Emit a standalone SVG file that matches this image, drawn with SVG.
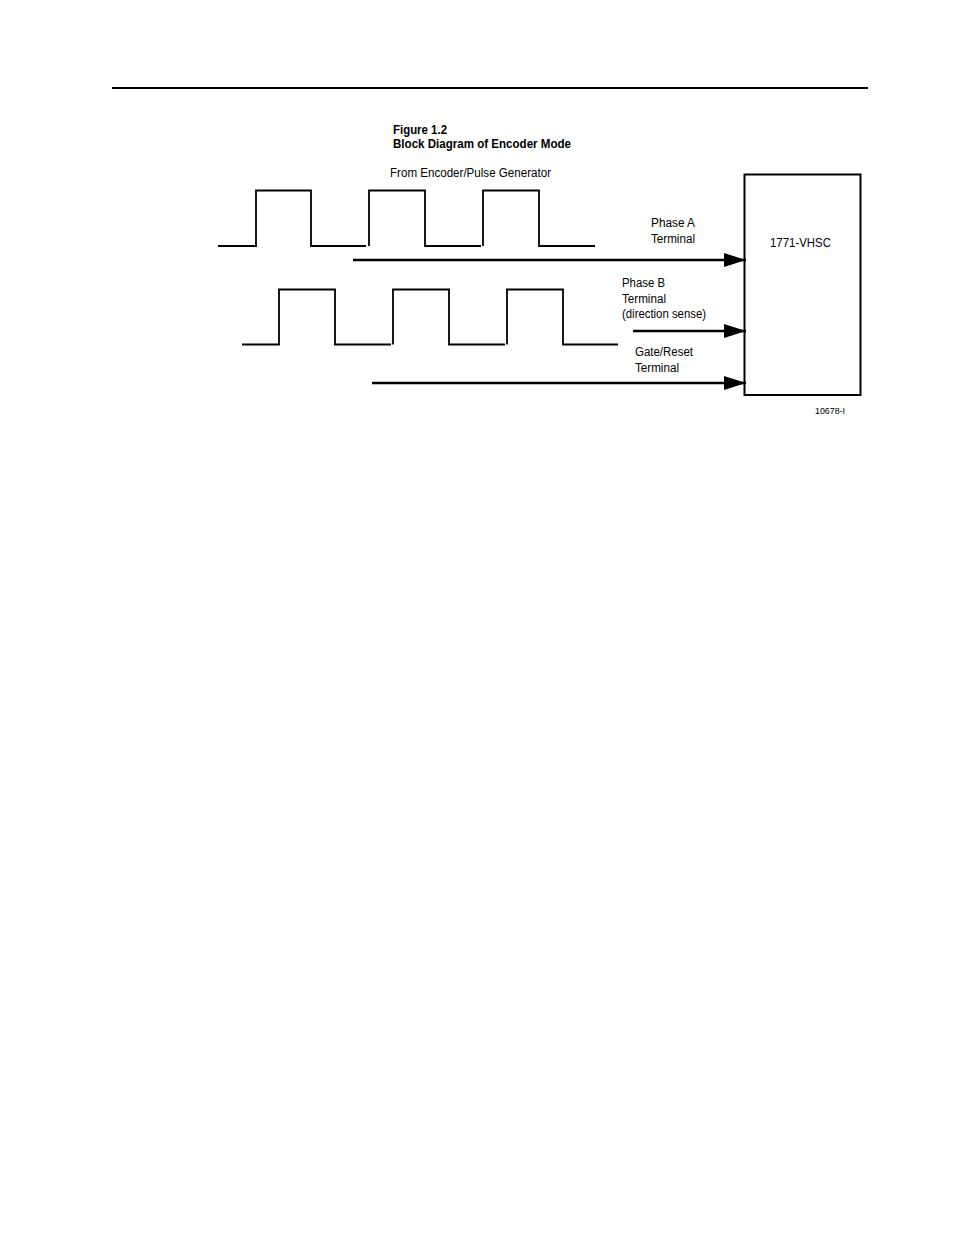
<svg xmlns="http://www.w3.org/2000/svg" width="954" height="1235" viewBox="0 0 954 1235">
<style>
text{font-family:"Liberation Sans",Arial,sans-serif;fill:#000}
.t{font-size:12.5px}
.b{font-size:12.5px;font-weight:bold}
.s{font-size:9.5px}
.w{fill:none;stroke:#000;stroke-width:1.8}
.c{fill:none;stroke:#000;stroke-width:2.4}
</style>
<defs>
<marker id="ah" markerUnits="userSpaceOnUse" markerWidth="22" markerHeight="14" refX="22" refY="7" orient="auto">
<path d="M0,0 L22,7 L0,14 Z" fill="#000"/>
</marker>
</defs>
<rect width="954" height="1235" fill="#fff"/>
<line x1="112" y1="88" x2="868" y2="88" stroke="#000" stroke-width="2"/>
<g id="title">
<text class="b" x="393" y="134" textLength="54" lengthAdjust="spacingAndGlyphs">Figure 1.2</text>
<text class="b" x="393" y="148" textLength="178" lengthAdjust="spacingAndGlyphs">Block Diagram of Encoder Mode</text>
<text class="t" x="390" y="177" textLength="161" lengthAdjust="spacingAndGlyphs">From Encoder/Pulse Generator</text>
</g>
<g id="waveform-a">
<polyline class="w" points="218,246 256,246 256,190.5 311,190.5 311,246 366,246"/>
<polyline class="w" points="369,246 369,190.5 425,190.5 425,246 481,246"/>
<polyline class="w" points="483,246 483,190.5 539,190.5 539,246 595,246"/>
</g>
<g id="waveform-b">
<polyline class="w" points="242,344.5 279,344.5 279,289.5 335,289.5 335,344.5 391,344.5"/>
<polyline class="w" points="393,344.5 393,289.5 449,289.5 449,344.5 505,344.5"/>
<polyline class="w" points="507,344.5 507,289.5 563,289.5 563,344.5 618,344.5"/>
</g>
<g id="vhsc">
<rect x="744.5" y="174.5" width="116" height="220.5" fill="none" stroke="#000" stroke-width="2"/>
<text class="t" x="770" y="247" textLength="61" lengthAdjust="spacingAndGlyphs">1771-VHSC</text>
</g>
<g id="connectors">
<line class="c" x1="353" y1="260" x2="746" y2="260" marker-end="url(#ah)"/>
<line class="c" x1="633" y1="331" x2="746" y2="331" marker-end="url(#ah)"/>
<line class="c" x1="372" y1="383" x2="746" y2="383" marker-end="url(#ah)"/>
</g>
<g id="labels">
<text class="t" x="651" y="227" textLength="44" lengthAdjust="spacingAndGlyphs">Phase A</text>
<text class="t" x="651" y="242.5" textLength="44" lengthAdjust="spacingAndGlyphs">Terminal</text>
<text class="t" x="622" y="287" textLength="43" lengthAdjust="spacingAndGlyphs">Phase B</text>
<text class="t" x="622" y="302.5" textLength="44" lengthAdjust="spacingAndGlyphs">Terminal</text>
<text class="t" x="622" y="317.5" textLength="84" lengthAdjust="spacingAndGlyphs">(direction sense)</text>
<text class="t" x="635" y="356" textLength="58" lengthAdjust="spacingAndGlyphs">Gate/Reset</text>
<text class="t" x="635" y="371.5" textLength="44" lengthAdjust="spacingAndGlyphs">Terminal</text>
<text class="s" x="815" y="414" textLength="30" lengthAdjust="spacingAndGlyphs">10678-I</text>
</g>
</svg>
